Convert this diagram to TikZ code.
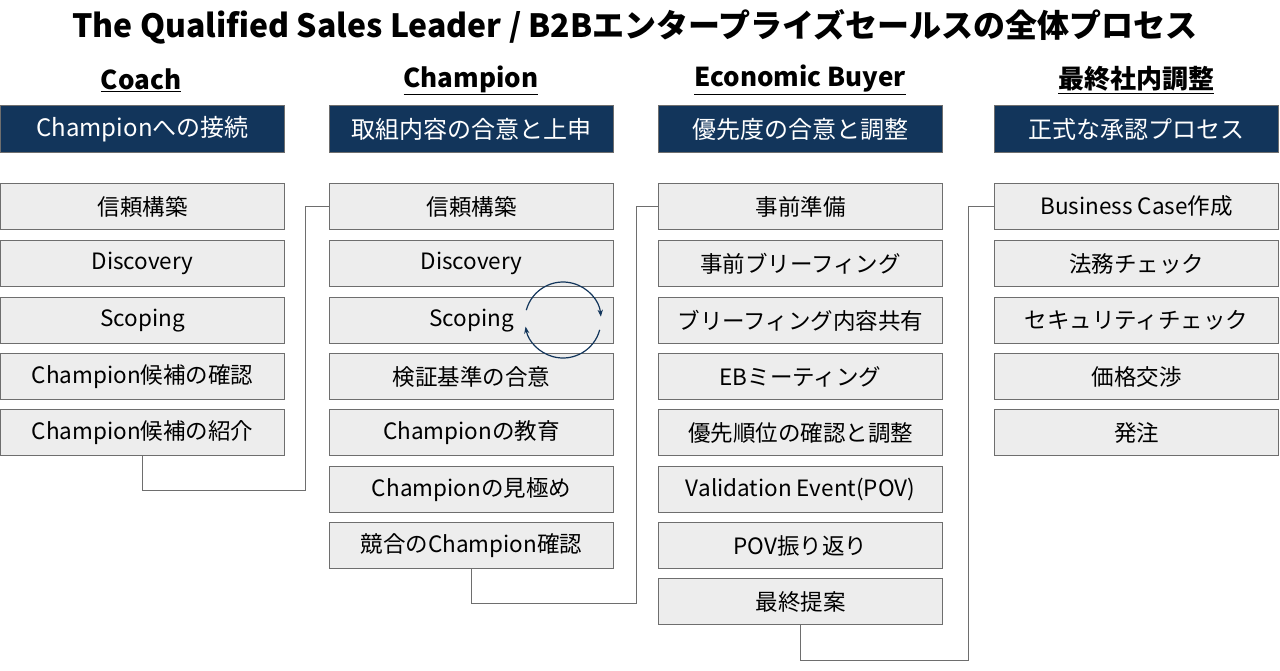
\documentclass[tikz,border=0pt]{standalone}
\usepackage{fontspec}
\setmainfont{Noto Sans CJK JP}
\usetikzlibrary{arrows.meta}
\definecolor{navy}{HTML}{12355B}
\definecolor{boxfill}{HTML}{EDEDED}
\definecolor{boxline}{HTML}{6E6E6E}
\begin{document}
\begin{tikzpicture}[x=1pt,y=-1pt,
  hdr/.style={draw=boxline,line width=1pt,fill=navy,text=white,minimum width=284pt,minimum height=47pt,inner sep=0pt,font=\fontsize{24}{26}\selectfont,anchor=north west},
  item/.style={draw=boxline,line width=1pt,fill=boxfill,minimum width=284pt,minimum height=46pt,inner sep=0pt,font=\fontsize{22.5}{24}\selectfont,anchor=north west},
  coltitle/.style={font=\bfseries\fontsize{26}{28}\selectfont},
  conn/.style={draw=boxline,line width=1pt}]
\useasboundingbox (0,0) rectangle (1280,670);
\fill[white] (0,0) rectangle (1280,670);
\node[font=\bfseries\fontsize{32}{34}\selectfont] (title) at (635,27) {The Qualified Sales Leader / B2Bエンタープライズセールスの全体プロセス};
\node[coltitle] (t1) at (141,80) {\underline{Coach}};
\node[coltitle] (t2) at (471,80) {\underline{Champion}};
\node[coltitle] (t3) at (800,80) {\underline{Economic Buyer}};
\node[coltitle] (t4) at (1136,80) {\underline{最終社内調整}};
\node[hdr] (h1) at (0,105) {Championへの接続};
\node[hdr] (h2) at (329,105) {取組内容の合意と上申};
\node[hdr] (h3) at (658,105) {優先度の合意と調整};
\node[hdr] (h4) at (994,105) {正式な承認プロセス};
% column 1
\node[item] (a1) at (0,183) {信頼構築};
\node[item] (a2) at (0,240) {Discovery};
\node[item] (a3) at (0,297) {Scoping};
\node[item] (a4) at (0,353) {Champion候補の確認};
\node[item] (a5) at (0,409) {Champion候補の紹介};
% column 2
\node[item] (b1) at (329,183) {信頼構築};
\node[item] (b2) at (329,240) {Discovery};
\node[item] (b3) at (329,297) {Scoping};
\node[item] (b4) at (329,353) {検証基準の合意};
\node[item] (b5) at (329,409) {Championの教育};
\node[item] (b6) at (329,466) {Championの見極め};
\node[item] (b7) at (329,522) {競合のChampion確認};
% column 3
\node[item] (c1) at (658,183) {事前準備};
\node[item] (c2) at (658,240) {事前ブリーフィング};
\node[item] (c3) at (658,297) {ブリーフィング内容共有};
\node[item] (c4) at (658,353) {EBミーティング};
\node[item] (c5) at (658,409) {優先順位の確認と調整};
\node[item] (c6) at (658,466) {Validation Event(POV)};
\node[item] (c7) at (658,522) {POV振り返り};
\node[item] (c8) at (658,578) {最終提案};
% column 4
\node[item] (d1) at (994,183) {Business Case作成};
\node[item] (d2) at (994,240) {法務チェック};
\node[item] (d3) at (994,297) {セキュリティチェック};
\node[item] (d4) at (994,353) {価格交渉};
\node[item] (d5) at (994,409) {発注};
% connectors
\coordinate (k1) at (305,490);
\coordinate (k2) at (636,603);
\coordinate (k3) at (968,660);
\draw[conn] (a5.south) |- (k1) |- (b1.west);
\draw[conn] (b7.south) |- (k2) |- (c1.west);
\draw[conn] (c8.south) |- (k3) |- (d1.west);
% cycle arrows
\coordinate (cyc) at (563,320);
\draw[navy,line width=1.2pt,-{Stealth[length=7pt]}] ([shift={(-165:38)}]cyc) arc[start angle=-165,end angle=-5,radius=38];
\draw[navy,line width=1.2pt,-{Stealth[length=7pt]}] ([shift={(15:38)}]cyc) arc[start angle=15,end angle=170,radius=38];
\end{tikzpicture}
\end{document}
